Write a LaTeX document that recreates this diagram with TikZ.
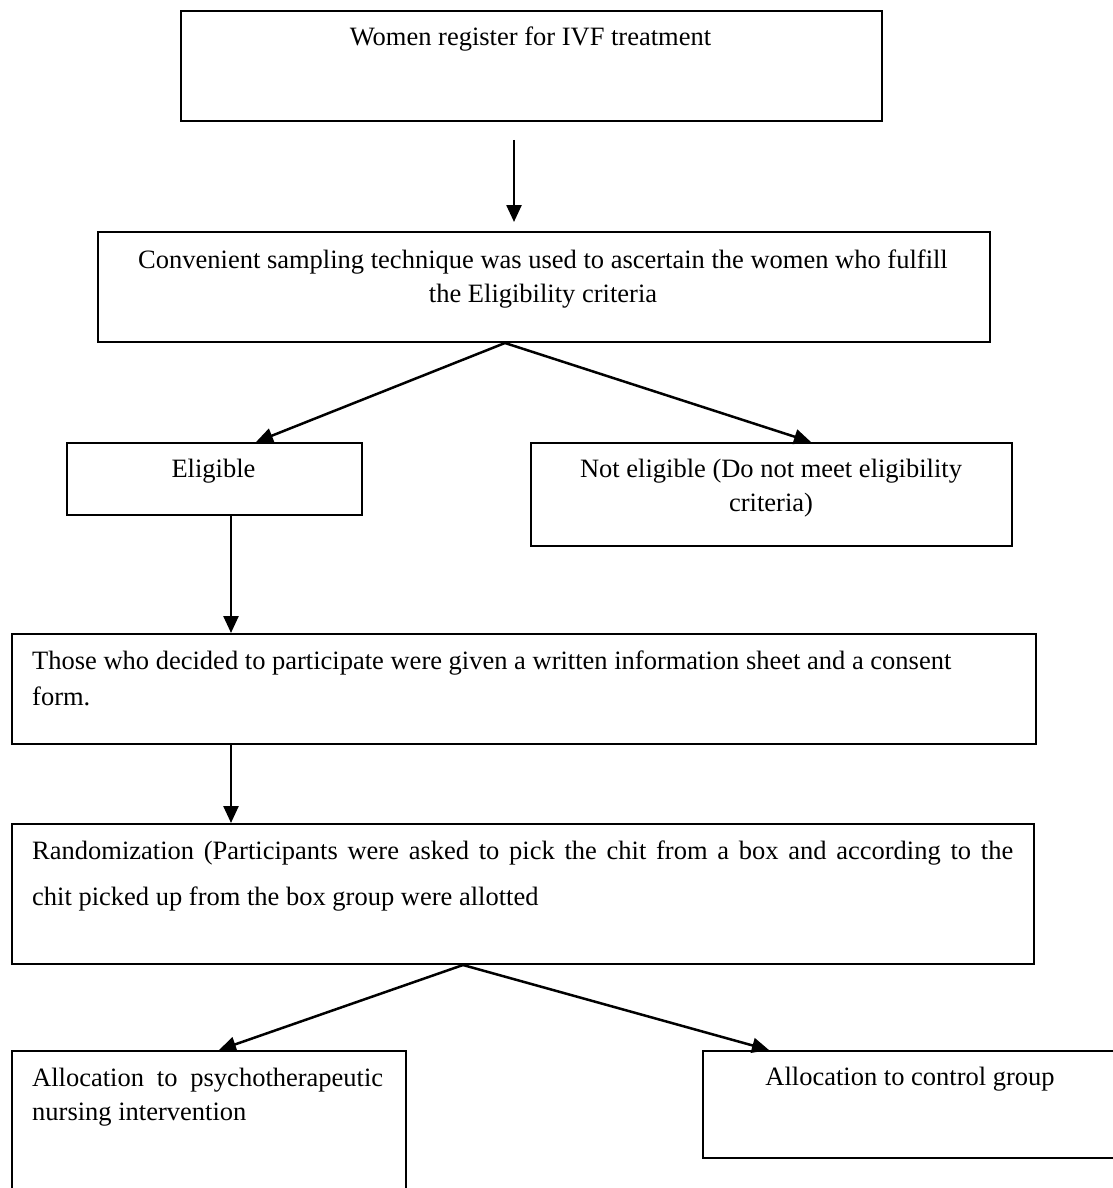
\documentclass[tikz,border=0pt]{standalone}
\usepackage{fontspec}
\setmainfont{Liberation Serif}
\usetikzlibrary{arrows.meta}
\begin{document}
\begin{tikzpicture}[x=1pt,y=-1pt,
  boxst/.style={draw=black,line width=2pt,rectangle,inner sep=0pt,anchor=north west},
  txt/.style={inner sep=0pt,font=\fontsize{26.5}{30}\selectfont},
  arr/.style={line width=2.5pt,-{Triangle[length=17pt,width=15pt]}}]
\useasboundingbox (0,0) rectangle (1113,1188);
\clip (0,0) rectangle (1113,1188);
% boxes
\node[boxst,minimum width=701pt,minimum height=110pt] (b1) at (180,10) {};
\node[boxst,minimum width=892pt,minimum height=110pt] (b2) at (97,231) {};
\node[boxst,minimum width=295pt,minimum height=72pt] (b3) at (66,442) {};
\node[boxst,minimum width=481pt,minimum height=103pt] (b4) at (530,442) {};
\node[boxst,minimum width=1024pt,minimum height=110pt] (b5) at (11,633) {};
\node[boxst,minimum width=1022pt,minimum height=140pt] (b6) at (11,823) {};
\node[boxst,minimum width=394pt,minimum height=160pt] (b7) at (11,1050) {};
\node[boxst,minimum width=430pt,minimum height=107pt] (b8) at (702,1050) {};
% texts
\node[txt,anchor=base] (t1) at (530.5,46) {Women register for IVF treatment};
\node[txt,anchor=base] (t2a) at (543,268) {Convenient sampling technique was used to ascertain the women who fulfill};
\node[txt,anchor=base] (t2b) at (543,302) {the Eligibility criteria};
\node[txt,anchor=base] (t3) at (213.5,477) {Eligible};
\node[txt,anchor=base] (t4a) at (771,477) {Not eligible (Do not meet eligibility};
\node[txt,anchor=base] (t4b) at (771,511) {criteria)};
\node[txt,anchor=base west] (t5a) at (32,669) {Those who decided to participate were given a written information sheet and a consent};
\node[txt,anchor=base west] (t5b) at (32,705) {form.};
\node[txt,anchor=base west] (t6a) at (32,859) {\makebox[981pt][s]{Randomization (Participants were asked to pick the chit from a box and according to the}};
\node[txt,anchor=base west] (t6b) at (32,905) {chit picked up from the box group were allotted};
\node[txt,anchor=base west] (t7a) at (32,1086) {\makebox[351pt][s]{Allocation to psychotherapeutic}};
\node[txt,anchor=base west] (t7b) at (32,1120) {nursing intervention};
\node[txt,anchor=base] (t8) at (910,1085) {Allocation to control group};
% connector end points
\coordinate (a1s) at ([xshift=334pt,yshift=-18pt]b1.south west);
\coordinate (a1e) at ([xshift=417pt,yshift=9pt]b2.north west);
\coordinate (s2) at ([xshift=408pt]b2.south west);
\coordinate (e3) at ([xshift=190pt]b3.north west);
\coordinate (e4) at ([xshift=281pt]b4.north west);
\coordinate (s3) at ([xshift=165pt]b3.south west);
\coordinate (e5) at ([xshift=220pt]b5.north west);
\coordinate (s5) at ([xshift=220pt]b5.south west);
\coordinate (e6) at ([xshift=220pt]b6.north west);
\coordinate (s6) at ([xshift=452pt]b6.south west);
\coordinate (e7) at ([xshift=208pt]b7.north west);
\coordinate (e8) at ([xshift=67pt]b8.north west);
% connectors
\draw[arr] (a1s) -- (a1e);
\draw[arr] (s2) -- (e3);
\draw[arr] (s2) -- (e4);
\draw[arr] (s3) -- (e5);
\draw[arr] (s5) -- (e6);
\draw[arr] (s6) -- (e7);
\draw[arr] (s6) -- (e8);
\end{tikzpicture}
\end{document}
